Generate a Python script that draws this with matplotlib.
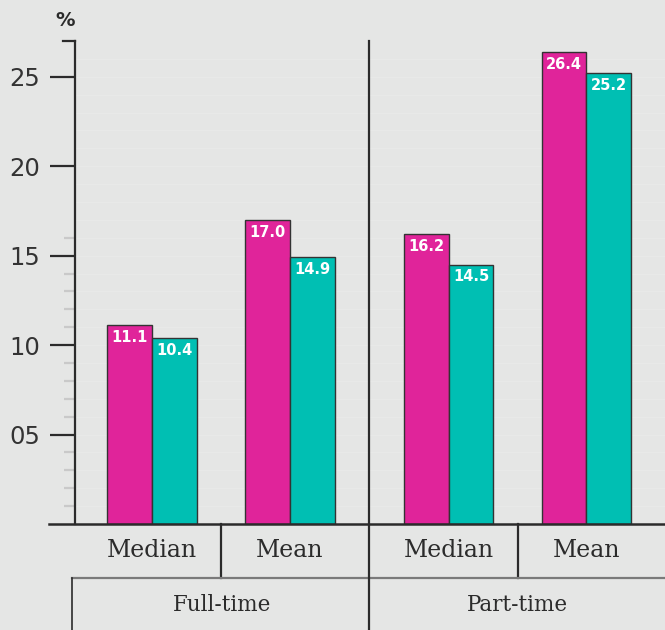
import numpy as np
import matplotlib
matplotlib.use('Agg')
import matplotlib.pyplot as plt

# datos
groups = ['Full-time', 'Part-time']
measures = ['Median', 'Mean', 'Median', 'Mean']
pink_vals = [11.1, 17.0, 16.2, 26.4]
teal_vals = [10.4, 14.9, 14.5, 25.2]
yticks = [5, 10, 15, 20, 25]
ytick_labels = ['05', '10', '15', '20', '25']

BG = '#e5e6e5'
PINK = '#e0249a'
TEAL = '#00bfb3'
DARK = '#2b2b2b'

W, H = 665, 630
fig = plt.figure(figsize=(W / 100, H / 100), dpi=100, facecolor=BG)
ax = fig.add_axes([75 / W, (H - 524) / H, 590 / W, 483 / H])
ax.set_facecolor(BG)

# posiciones: dos pares por grupo, con un pequeno hueco entre grupos
gap = 0.15
x = np.array([0, 1, 2 + gap, 3 + gap])
bw = 0.325
ax.set_xlim(-0.56, 3.72)
ax.set_ylim(0, 27)

# grilla muy tenue en cada unidad
for v in range(1, 27):
    ax.axhline(v, color='#e8e9e8', lw=1, zorder=0)

b1 = ax.bar(x - bw / 2, pink_vals, bw, color=PINK, edgecolor='#333333', lw=1, zorder=3)
b2 = ax.bar(x + bw / 2, teal_vals, bw, color=TEAL, edgecolor='#333333', lw=1, zorder=3)
for bars, vals in ((b1, pink_vals), (b2, teal_vals)):
    for r, v in zip(bars, vals):
        ax.annotate(f'{v:.1f}', (r.get_x() + r.get_width() / 2, v), xytext=(0, -3.5),
                    textcoords='offset points', ha='center', va='top', color='white',
                    fontsize=10.5, fontweight='bold', zorder=4)

# ejes
for s in ('top', 'right', 'bottom'):
    ax.spines[s].set_visible(False)
ax.spines['left'].set_linewidth(1.6)
ax.spines['left'].set_color(DARK)
ax.set_xticks([])
ax.set_yticks(yticks)
ax.set_yticklabels(ytick_labels, fontsize=17.5, color='#333333')
ax.tick_params(axis='y', which='major', length=18, width=1.6, color=DARK, pad=7)
ax.set_yticks([v for v in range(1, 17) if v % 5], minor=True)
ax.tick_params(axis='y', which='minor', length=8, width=1.6, color='#c9c9c9')
yt = ax.get_yaxis_transform()
# marca superior corta
ax.plot([-12 / 590, 0], [27, 27], transform=yt, color=DARK, lw=1.6, clip_on=False)

# linea base
ax.plot([-26 / 590, 1], [0, 0], transform=yt, color=DARK, lw=1.8, clip_on=False, zorder=5)

# tabla de categorias bajo el eje
mid = (x[1] + x[2]) / 2
ax.plot([mid, mid], [-6.5, 27], color=DARK, lw=1.6, clip_on=False, zorder=5)
for i in (0, 2):
    d = (x[i] + x[i + 1]) / 2
    ax.plot([d, d], [-3.0, 0], color=DARK, lw=1.6, clip_on=False)
ax.plot([-3 / 590, 1], [-3.0, -3.0], transform=yt, color='#7a7a7a', lw=1.6, clip_on=False)
ax.plot([-3 / 590, -3 / 590], [-3.0, -6.5], transform=yt, color=DARK, lw=1.2, clip_on=False)

for xi, m in zip(x, measures):
    ax.text(xi, -1.5, m, ha='center', va='center', fontsize=17, family='DejaVu Serif',
            color=DARK)
xl = ax.get_xlim()
centers = [(xl[0] + mid) / 2, (mid + xl[1]) / 2]
for c, g in zip(centers, groups):
    ax.text(c, -4.55, g, ha='center', va='center', fontsize=15.5, family='DejaVu Serif',
            color=DARK)

fig.text(65 / W, 1 - 21 / H, '%', ha='center', va='center', fontsize=14,
         fontweight='bold', color=DARK)

fig.savefig('out.png', dpi=100, facecolor=BG)
